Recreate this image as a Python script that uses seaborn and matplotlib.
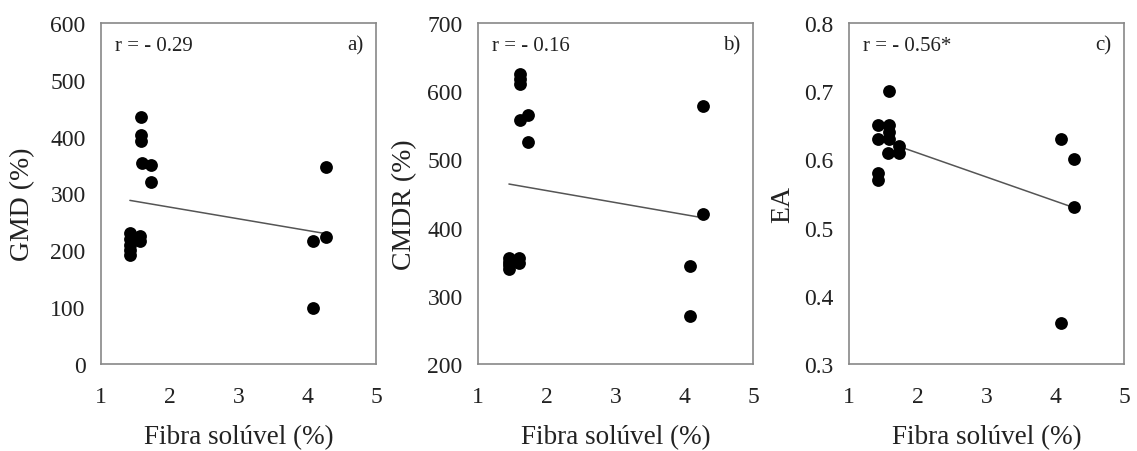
import matplotlib
matplotlib.use("Agg")
import matplotlib.pyplot as plt
import seaborn as sns
import pandas as pd

sns.set_theme(style="white")
plt.rcParams['font.family'] = ['Liberation Serif', 'DejaVu Serif']

# Panel a) GMD
x_a = [1.42, 1.42, 1.42, 1.42, 1.42, 1.57, 1.57, 1.58, 1.58, 1.58, 1.60, 1.72, 1.72, 4.08, 4.08, 4.27, 4.27]
y_a = [230, 220, 210, 200, 192, 226, 217, 435, 403, 393, 354, 350, 321, 216, 99, 346, 224]
# Panel b) CMDR
x_b = [1.45, 1.45, 1.45, 1.45, 1.59, 1.59, 1.61, 1.61, 1.61, 1.61, 1.73, 1.73, 4.08, 4.08, 4.27, 4.27]
y_b = [355, 350, 345, 340, 355, 348, 625, 618, 610, 558, 565, 525, 343, 270, 578, 420]
# Panel c) EA
x_c = [1.42, 1.42, 1.42, 1.42, 1.58, 1.58, 1.58, 1.58, 1.56, 1.73, 1.73, 4.08, 4.08, 4.27, 4.27]
y_c = [0.65, 0.63, 0.58, 0.57, 0.70, 0.65, 0.64, 0.63, 0.61, 0.62, 0.61, 0.63, 0.36, 0.60, 0.53]

y_labels = ["GMD (%)", "CMDR (%)", "EA"]
r_texts = ["r = - 0.29", "r = - 0.16", "r = - 0.56*"]
panel_tags = ["a)", "b)", "c)"]
x_label = "Fibra solúvel (%)"
x_ticks = [1, 2, 3, 4, 5]
y_ticks = [[0, 100, 200, 300, 400, 500, 600],
           [200, 300, 400, 500, 600, 700],
           [0.3, 0.4, 0.5, 0.6, 0.7, 0.8]]

fig = plt.figure(figsize=(11.37, 4.52), dpi=100)
lefts = [101 / 1137, 478 / 1137, 849 / 1137]
width = 275 / 1137
bottom = 1 - 365 / 452
height = (365 - 24) / 452
ylabel_x = [-0.24, -0.222, -0.196]

datasets = [(x_a, y_a), (x_b, y_b), (x_c, y_c)]
for i, (xs, ys) in enumerate(datasets):
    ax = fig.add_axes([lefts[i], bottom, width, height])
    df = pd.DataFrame({"x": xs, "y": ys})
    sns.regplot(data=df, x="x", y="y", ax=ax, ci=None,
                scatter_kws=dict(s=85, color="black", edgecolor="black", linewidths=0, alpha=1, zorder=3),
                line_kws=dict(color="#555555", linewidth=1.1, zorder=2))
    ax.set_xlim(1, 5)
    ax.set_ylim(y_ticks[i][0], y_ticks[i][-1])
    ax.set_xticks(x_ticks)
    ax.set_xticklabels([str(t) for t in x_ticks])
    ax.set_yticks(y_ticks[i])
    if i == 2:
        ax.set_yticklabels([f"{t:.1f}" for t in y_ticks[i]])
    else:
        ax.set_yticklabels([str(t) for t in y_ticks[i]])
    for sp in ax.spines.values():
        sp.set_visible(True)
        sp.set_color("#888888")
        sp.set_linewidth(1.2)
    ax.tick_params(axis="both", which="major", direction="out", length=4, width=1,
                   color="#888888", labelsize=17, labelcolor="#222222")
    ax.tick_params(axis="y", pad=7)
    ax.tick_params(axis="x", direction="inout", length=6, pad=13)
    ax.set_xlabel(x_label, fontsize=19.5, color="#222222", labelpad=12)
    ax.set_ylabel(y_labels[i], fontsize=20, color="#222222")
    ax.yaxis.set_label_coords(ylabel_x[i], 0.47)
    ax.text(0.05, 0.935, r_texts[i], transform=ax.transAxes, fontsize=15,
            ha="left", va="center", color="#222222")
    ax.text(0.955, 0.935, panel_tags[i], transform=ax.transAxes, fontsize=15,
            ha="right", va="center", color="#222222")
    ax.set_facecolor("white")

fig.savefig("out.png", dpi=100, facecolor="white")
